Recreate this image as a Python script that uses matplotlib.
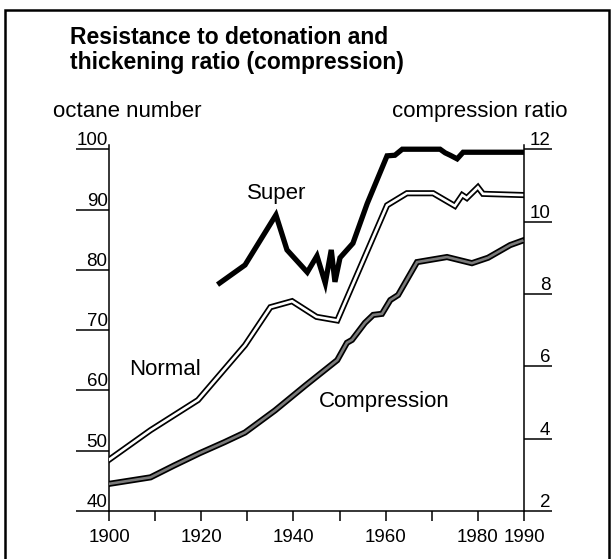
import numpy as np
import matplotlib.pyplot as plt
from matplotlib.patches import Rectangle

plt.rcParams['font.family'] = ['Liberation Sans', 'DejaVu Sans']

# === Dati ===
super_years = [1924, 1929.5, 1936.2, 1938.6, 1943, 1945.1, 1946.9, 1948.2, 1949,
               1950.1, 1952.9, 1956, 1960.3, 1962, 1963.6, 1971.8, 1972.9, 1974,
               1975.5, 1976.8, 1989.6]
super_octane = [77.8, 80.8, 89.1, 83.3, 79.6, 82.3, 77.8, 83.3, 78,
                82, 84.4, 91, 98.9, 99, 100, 100, 99.4, 99,
                98.4, 99.5, 99.5]

normal_years = [1900, 1909, 1919.3, 1929.5, 1935, 1939.7, 1945, 1949.5,
                1960.3, 1964.6, 1970.3, 1975, 1976.6, 1977.6, 1980, 1981.1, 1989.8]
normal_octane = [48.5, 53.4, 58.4, 67.5, 73.8, 74.8, 72.2, 71.6,
                 90.7, 92.7, 92.7, 90.6, 92.4, 91.9, 93.7, 92.6, 92.4]

comp_years = [1900, 1909, 1914, 1919.7, 1925, 1929.5, 1936, 1942.7, 1949.5,
              1951.6, 1952.7, 1955.5, 1957.3, 1959.2, 1961, 1962.7, 1966.8,
              1973.3, 1978.7, 1982.2, 1987, 1989.6]
comp_ratio = [2.75, 2.93, 3.25, 3.6, 3.9, 4.17, 4.78, 5.48, 6.17,
              6.65, 6.73, 7.2, 7.42, 7.45, 7.83, 7.97, 8.88,
              9.02, 8.85, 9.0, 9.35, 9.47]

x_major = [1900, 1920, 1940, 1960, 1980, 1990]
x_minor = [1910, 1930, 1950, 1970]
y_left = [40, 50, 60, 70, 80, 90, 100]
y_right = [2, 4, 6, 8, 10, 12]

# === Figura ===
fig = plt.figure(figsize=(6.15, 5.59), dpi=100)
ax = fig.add_axes([109/615, 48/559, 415/615, 366/559])
ax2 = ax.twinx()

top_oct = 100.7
ax.set_xlim(1900, 1990)
ax.set_ylim(40, top_oct)
ax2.set_ylim(2, 2 + (top_oct - 40) / 6)

for a in (ax, ax2):
    a.patch.set_visible(False)
    a.spines['top'].set_visible(False)
    for s in a.spines.values():
        s.set_linewidth(1.1)

ax2.spines['left'].set_visible(False)
ax2.spines['bottom'].set_visible(False)
ax.spines['right'].set_visible(False)

# tick asse x
ax.set_xticks(x_major)
ax.set_xticks(x_minor, minor=True)
ax.tick_params(axis='x', which='both', direction='out', length=7, width=1.1,
               pad=6, labelsize=13.5)

# tick asse sinistro
ax.set_yticks(y_left)
ax.tick_params(axis='y', direction='out', length=24, width=1.1, pad=-23,
               labelsize=13.5)
for lab in ax.get_yticklabels():
    lab.set_va('bottom')
    lab.set_ha('right')

# tick asse destro
ax2.set_yticks(y_right)
ax2.tick_params(axis='y', direction='out', length=20, width=1.1, pad=-1,
                labelsize=13.5)
for lab in ax2.get_yticklabels():
    lab.set_va('bottom')
    lab.set_ha('right')

# === Serie ===
ax.plot(super_years, super_octane, color='black', lw=3.8,
        solid_joinstyle='miter', zorder=3)
ax.plot(normal_years, normal_octane, color='black', lw=4.4,
        solid_joinstyle='miter', zorder=3)
ax.plot(normal_years, normal_octane, color='white', lw=1.9,
        solid_joinstyle='miter', zorder=4)
ax2.plot(comp_years, comp_ratio, color='black', lw=4.4,
         solid_joinstyle='miter', zorder=3)
ax2.plot(comp_years, comp_ratio, color='#7a7a7a', lw=1.9,
         solid_joinstyle='miter', zorder=4)

ax.text(1936.4, 92.7, 'Super', fontsize=16, ha='center', va='center')
ax.text(1912.1, 63.4, 'Normal', fontsize=16, ha='center', va='center')
ax.text(1959.7, 58.1, 'Compression', fontsize=16, ha='center', va='center')

# === Testi ===
fig.text(70/615, (559-26)/559,
         'Resistance to detonation and\nthickening ratio (compression)',
         fontsize=16.5, fontweight='bold', ha='left', va='top', linespacing=1.1)
fig.text(53/615, (559-117)/559, 'octane number', fontsize=16,
         ha='left', va='baseline')
fig.text(567/615, (559-117)/559, 'compression ratio', fontsize=16,
         ha='right', va='baseline')

# cornice
fig.add_artist(Rectangle((5/615, -0.05), 604/615, (559-10)/559 + 0.05,
                         transform=fig.transFigure, fill=False,
                         lw=1.8, edgecolor='black'))

fig.savefig('out.png', dpi=100)
